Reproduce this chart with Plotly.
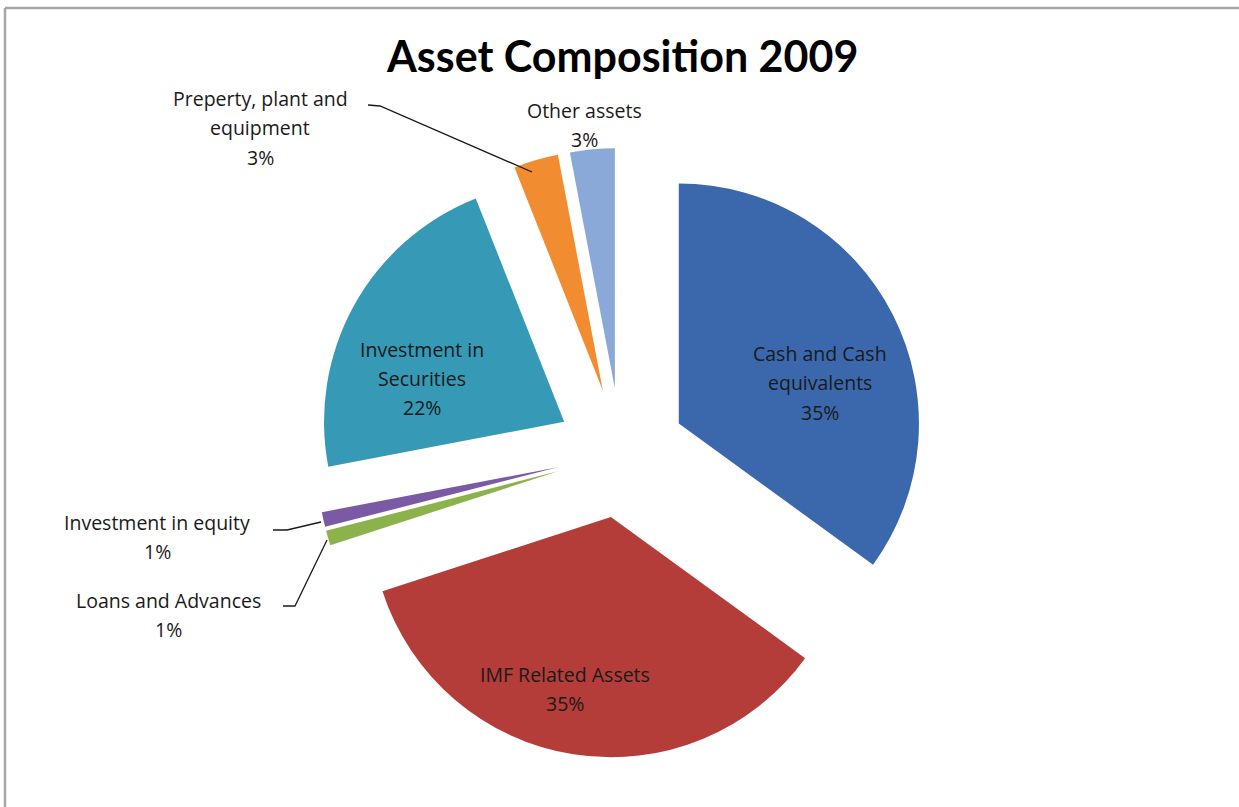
import plotly.graph_objects as go

W, H = 1239, 807

# Asset composition data (share of total, %)
categories = [
    "Cash and Cash equivalents",
    "IMF Related Assets",
    "Loans and Advances",
    "Investment in equity",
    "Investment in Securities",
    "Preperty, plant and equipment",
    "Other assets",
]
values = [35, 35, 1, 1, 22, 3, 3]
colors = ["#3B68AC", "#B43C39", "#8CB24C", "#7B5AA5", "#3699B5", "#F28C30", "#8AA9D8"]

# How each category label is broken into lines
label_lines = [
    ["Cash and Cash", "equivalents"],
    ["IMF Related Assets"],
    ["Loans and Advances"],
    ["Investment in equity"],
    ["Investment in", "Securities"],
    ["Preperty, plant and", "equipment"],
    ["Other assets"],
]
# Label anchor (centre x, first line y) in pixels
label_pos = [(820, 353), (565, 674), (168, 600), (157, 522), (422, 349), (260, 98), (584, 110)]
LINE_GAP = 29.5


def px(x):
    return x / W


def py(y):
    return 1 - y / H


total = sum(values)

fig = go.Figure()
fig.add_trace(go.Pie(
    labels=categories,
    values=values,
    sort=False,
    direction="clockwise",
    rotation=0,
    pull=[0.27] * len(values),
    marker=dict(colors=colors, line=dict(width=0)),
    textinfo="none",
    hoverinfo="label+percent",
    showlegend=False,
    domain=dict(x=[px(316), px(926)], y=[py(758), py(148)]),
))

annotations = []
for lines, (cx, cy), v in zip(label_lines, label_pos, values):
    pct = f"{round(100 * v / total)}%"
    for i, t in enumerate(lines + [pct]):
        annotations.append(dict(
            x=px(cx), y=py(cy + i * LINE_GAP), xref="paper", yref="paper",
            text=t, showarrow=False, xanchor="center", yanchor="middle",
            font=dict(family="Open Sans", size=19.5, color="#1a1a1a"),
        ))

annotations.append(dict(
    x=px(622), y=py(56), xref="paper", yref="paper",
    text="<b>Asset Composition 2009</b>", showarrow=False,
    xanchor="center", yanchor="middle",
    font=dict(family="Lato", size=43, color="#000000"),
))


def path(points):
    return "M " + " L ".join(f"{px(x)},{py(y)}" for x, y in points)


leader = dict(color="#1a1a1a", width=1.3)
shapes = [
    # chart frame (top and left edges)
    dict(type="line", xref="paper", yref="paper", x0=px(5), y0=py(8), x1=1, y1=py(8),
         line=dict(color="#A6A6A6", width=2.5)),
    dict(type="line", xref="paper", yref="paper", x0=px(5), y0=py(8), x1=px(5), y1=0,
         line=dict(color="#A6A6A6", width=2.5)),
    # leader lines for the small outside labels
    dict(type="path", xref="paper", yref="paper", path=path([(368, 105), (380, 106), (532, 172)]), line=leader),
    dict(type="path", xref="paper", yref="paper", path=path([(273, 530), (287, 530), (321, 522)]), line=leader),
    dict(type="path", xref="paper", yref="paper", path=path([(283, 606), (295, 606), (327, 540)]), line=leader),
]

fig.update_layout(
    width=W, height=H,
    margin=dict(l=0, r=0, t=0, b=0),
    paper_bgcolor="white",
    plot_bgcolor="white",
    annotations=annotations,
    shapes=shapes,
)

fig.write_html("out.html")
